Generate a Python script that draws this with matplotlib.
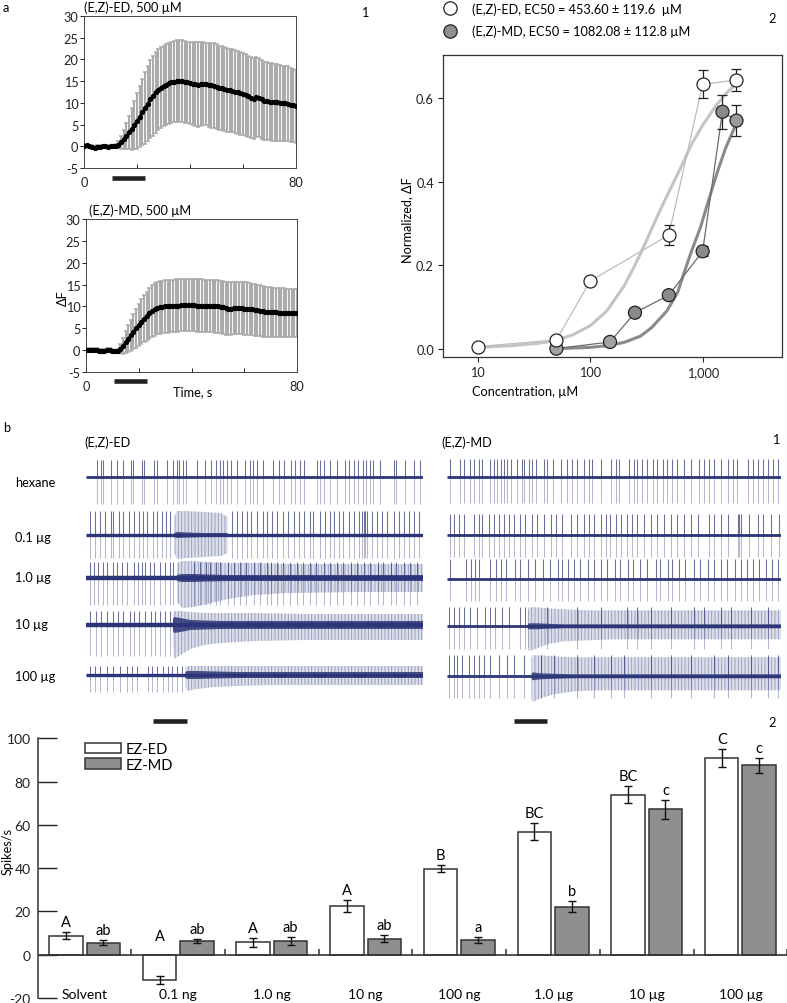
import numpy as np
import matplotlib
matplotlib.use('Agg')
import matplotlib.pyplot as plt
from matplotlib.patches import Patch
from matplotlib.lines import Line2D

# ======================= DATA =======================
# --- panel a1: calcium imaging time courses (mean +/- error), 1 s sampling
time_s = list(range(0, 81))
ED_mean = [0.1, 0.2, 0.0, -0.2, -0.3, -0.2, -0.1, 0.0, 0.0, -0.1, 0.0, 0.0, 0.1,
           0.4, 0.9, 1.6, 2.4, 3.2, 4.0, 4.9, 5.8, 6.8, 7.8,
           8.8, 9.8, 10.8, 11.6, 12.4, 13.0, 13.5, 13.9, 14.2, 14.5,
           14.7, 14.9, 15.0, 15.1, 15.0, 14.8, 14.7, 14.6, 14.4, 14.3,
           14.2, 14.3, 14.4, 14.3, 14.1, 14.0, 13.9, 13.7, 13.5, 13.4,
           13.2, 13.0, 12.9, 12.8, 12.6, 12.4, 12.2, 12.0, 11.8, 11.5,
           11.2, 11.0, 11.3, 11.2, 10.8, 10.5, 10.4, 10.3, 10.2, 10.1,
           10.1, 10.0, 9.9, 9.9, 9.8, 9.6, 9.4, 9.2]
ED_err = ([0.4] * 13 +
          [0.8, 1.5, 2.2, 3.0, 3.8, 4.8, 5.6, 6.4, 7.0, 7.6,
           8.2, 8.6, 9.0, 9.2, 9.3, 9.3, 9.3, 9.3, 9.3, 9.3,
           9.4, 9.4, 9.4, 9.4, 9.4, 9.4, 9.4, 9.5, 9.6, 9.7,
           9.7, 9.6, 9.5, 9.5, 9.6,
           9.8, 9.8, 9.8, 9.7, 9.7, 9.6, 9.6, 9.6, 9.5, 9.5,
           9.5, 9.5, 9.4, 9.4, 9.4, 9.3, 9.3, 9.2, 9.1, 9.1,
           9.0, 9.0, 8.9, 8.9, 8.8, 8.8, 8.7, 8.7, 8.6, 8.6,
           8.5, 8.5, 8.4])
MD_mean = [0.1, 0.1, 0.0, 0.1, 0.0, -0.1, -0.2, -0.1, 0.0, 0.0, -0.1,
           -0.3, -0.2, 0.3, 1.0, 1.8, 2.6, 3.4, 4.2, 5.0, 5.8,
           6.5, 7.2, 7.8, 8.4, 8.9, 9.3, 9.6, 9.8, 9.9, 10.0,
           10.0, 10.1, 10.1, 10.2, 10.2, 10.3, 10.3, 10.3, 10.3, 10.3,
           10.3, 10.2, 10.2, 10.2, 10.1, 10.1, 10.1, 10.1, 10.0, 10.0,
           9.9, 9.8, 9.6, 9.5, 9.5, 9.6, 9.6, 9.6, 9.6, 9.5,
           9.5, 9.4, 9.3, 9.2, 9.1, 9.0, 8.9, 8.8, 8.7, 8.7,
           8.7, 8.7, 8.6, 8.6, 8.6, 8.6, 8.6, 8.5, 8.5, 8.5]
MD_err = ([0.4] * 13 +
          [1.0, 1.8, 2.5, 3.1, 3.6, 4.0, 4.4, 4.8, 5.1, 5.4, 5.6, 5.8, 5.9, 6.0] +
          [6.0] * 24 +
          [6.0, 6.0, 6.1, 6.1, 6.1, 6.0, 6.0, 6.0, 6.0, 6.0,
           6.0, 5.9, 5.9, 5.9, 5.8, 5.8, 5.8, 5.7, 5.7, 5.7,
           5.6, 5.6, 5.6, 5.6, 5.6, 5.5, 5.5, 5.5, 5.5, 5.5])
stim_calcium = [10.5, 23.0]

# --- panel a2: dose-response
conc_ED = [10, 50, 100, 500, 1000, 2000]
resp_ED = [0.005, 0.021, 0.162, 0.272, 0.633, 0.643]
err_ED = [0.0, 0.0, 0.0, 0.024, 0.033, 0.027]
conc_MD = [50, 150, 250, 500, 1000, 1500, 2000]
resp_MD = [0.0, 0.016, 0.086, 0.128, 0.233, 0.567, 0.546]
err_MD = [0.0, 0.0, 0.0, 0.0, 0.012, 0.040, 0.038]
fit_ED_x = [10, 20, 35, 50, 70, 100, 140, 200, 250, 300, 400, 500, 630, 800, 1000, 1300, 1600, 2000]
fit_ED_y = [0.003, 0.007, 0.013, 0.020, 0.033, 0.055, 0.090, 0.150, 0.200, 0.245, 0.320, 0.375,
            0.430, 0.490, 0.535, 0.580, 0.610, 0.635]
fit_MD_x = [50, 100, 150, 200, 280, 350, 480, 600, 680, 800, 955, 1100, 1340, 1600, 2000]
fit_MD_y = [0.0, 0.003, 0.008, 0.015, 0.030, 0.050, 0.090, 0.135, 0.180, 0.235, 0.290, 0.345,
            0.420, 0.480, 0.540]
legend_ED = "(E,Z)-ED, EC50 = 453.60 \u00b1 119.6  \u00b5M"
legend_MD = "(E,Z)-MD, EC50 = 1082.08 \u00b1 112.8 \u00b5M"

# --- panel b1: single sensillum recordings (10 s traces), spike times in s
trace_rows = ['hexane', '0.1 \u00b5g', '1.0 \u00b5g', '10 \u00b5g', '100 \u00b5g']
stim_trace = [2.0, 3.0]
ED_spikes = [
    [0.34, 0.44, 0.51, 0.73, 0.93, 1.09, 1.33, 1.39, 1.65, 1.72, 2.02, 2.12, 2.40, 2.57, 2.69,
     2.77, 2.87, 2.97, 3.29, 3.54, 3.71, 3.86, 3.98, 4.08, 4.18, 4.30, 4.48, 4.72, 4.87, 4.97,
     5.07, 5.25, 5.54, 5.74, 5.88, 6.08, 6.21, 6.34, 6.46, 6.85, 6.93, 7.05, 7.25, 7.45, 7.69,
     7.80, 7.96, 8.06, 8.22, 8.32, 8.44, 8.53, 8.71, 9.13, 9.21, 9.48, 9.72, 9.92],
    [0.12, 0.27, 0.42, 0.56, 0.73, 0.81, 0.99, 1.11, 1.29, 1.41, 1.58, 1.68, 1.80, 1.98, 2.12,
     2.25, 2.38, 2.50, 4.33, 4.48, 4.63, 4.77, 4.89, 5.07, 5.25, 5.37, 5.52, 5.66, 5.86, 5.98,
     6.16, 6.31, 6.48, 6.65, 6.75, 6.93, 7.10, 7.23, 7.37, 7.52, 7.64, 7.79, 7.94, 8.09, 8.19,
     8.24, 8.29, 8.34, 8.49, 8.63, 8.78, 8.93, 9.13, 9.28, 9.43, 9.58, 9.72, 9.87],
    [0.12, 0.24, 0.37, 0.51, 0.61, 0.81, 0.93, 1.06, 1.21, 1.41, 1.55, 1.65, 1.75, 1.90, 2.02,
     2.20, 2.35, 2.48, 2.59, 3.19, 3.37, 3.55, 3.68, 3.85, 3.98, 4.21, 4.40, 4.57, 4.75, 4.99,
     5.15, 5.38, 5.50, 5.68, 5.86, 6.04, 6.27, 6.45, 6.66, 6.83, 7.07, 7.24, 7.46, 7.62, 7.85,
     8.03, 8.26, 8.42, 8.65, 8.82, 9.05, 9.21, 9.44, 9.60, 9.83],
    [0.12, 0.30, 0.44, 0.61, 0.79, 0.96, 1.11, 1.31, 1.43, 1.58, 1.75, 1.92, 2.05, 2.20, 2.35, 2.50],
    [0.12, 0.27, 0.42, 0.61, 0.79, 1.01, 1.21, 1.36, 1.51, 1.85, 1.95, 2.10, 2.28, 2.42, 2.54,
     2.69, 2.84],
]
ED_amp_up = [17, 24, 16, 14, 9]
ED_amp_dn = [27, 23, 27, 31, 17]
ED_env_t = [[], [2.62, 2.70, 3.00, 3.50, 4.00, 4.20],
            [2.70, 2.85, 3.20, 3.60, 4.20, 5.00, 6.00, 8.00, 10.0],
            [2.58, 2.62, 2.80, 3.10, 3.50, 4.00, 5.00, 6.50, 8.00, 10.0],
            [2.95, 3.00, 3.30, 3.80, 4.50, 5.50, 7.00, 10.0]]
ED_env_up = [[], [18, 24, 24, 23, 22, 18],
             [15, 17, 17, 16, 15, 15, 14, 14, 14],
             [12, 14, 14, 13, 12, 12, 12, 11, 11, 11],
             [8, 9, 9, 9, 9, 9, 9, 9]]
ED_env_dn = [[], [18, 24, 23, 22, 21, 18],
             [24, 30, 29, 26, 21, 17, 15, 14, 14],
             [20, 34, 30, 24, 20, 18, 16, 15, 15, 15],
             [12, 16, 14, 12, 11, 10, 10, 10]]
ED_env_core = [[], [2, 3, 2.5, 2, 2, 2],
               [3, 4, 4, 3.5, 3, 3, 3, 3, 3],
               [6, 8, 7, 5, 4.5, 4, 4, 4, 4, 4],
               [3, 4, 4, 3.5, 3, 3, 3, 3]]

MD_spikes = [
    [0.10, 0.40, 0.50, 0.70, 0.80, 0.95, 1.05, 1.30, 1.40, 1.50, 1.62, 1.70, 1.80, 1.92, 2.10,
     2.25, 2.32, 2.45, 2.55, 2.65, 2.90, 3.00, 3.18, 3.40, 3.60, 3.75, 3.90, 4.10, 4.25, 4.35,
     4.60, 4.90, 5.05, 5.15, 5.45, 5.60, 5.70, 5.85, 6.00, 6.18, 6.30, 6.48, 6.60, 6.75, 6.90,
     7.10, 7.30, 7.55, 7.68, 7.85, 8.00, 8.20, 8.40, 8.55, 8.68, 9.00, 9.15, 9.30, 9.45, 9.60,
     9.75, 9.90],
    [0.10, 0.20, 0.35, 0.50, 0.80, 0.95, 1.05, 1.25, 1.40, 1.55, 1.70, 1.85, 2.02, 2.20, 2.35,
     2.55, 2.70, 2.90, 3.10, 3.25, 3.45, 3.70, 3.90, 4.10, 4.25, 4.40, 4.60, 4.75, 4.88, 5.05,
     5.20, 5.40, 5.55, 5.70, 5.90, 6.10, 6.30, 6.50, 6.70, 6.90, 7.10, 7.30, 7.50, 7.85, 8.00,
     8.20, 8.40, 8.70, 8.75, 8.80, 9.05, 9.30, 9.45, 9.70, 9.95],
    [0.10, 0.58, 0.71, 0.84, 0.96, 1.28, 1.46, 1.61, 1.78, 2.03, 2.19, 2.42, 2.63, 2.87, 3.08,
     3.31, 3.44, 3.63, 3.81, 3.98, 4.22, 4.39, 4.62, 4.78, 5.02, 5.18, 5.41, 5.58, 5.77, 5.99,
     6.26, 6.38, 6.61, 6.74, 6.96, 7.13, 7.41, 7.58, 7.82, 7.99, 8.21, 8.38, 8.61, 8.79, 8.98,
     9.16, 9.34, 9.56, 9.74, 9.90],
    [0.05, 0.20, 0.35, 0.50, 0.70, 0.90, 1.15, 1.30, 1.45, 1.65, 1.85, 2.20, 2.35,
     3.0, 3.9, 4.6, 5.4, 5.7, 6.1, 6.7, 7.4, 7.7, 8.2, 8.5, 9.1, 9.6],
    [0.05, 0.20, 0.30, 0.45, 0.65, 0.80, 0.95, 1.10, 1.30, 1.55, 1.80, 2.00, 2.30,
     2.8, 3.2, 3.9, 4.4, 4.9, 5.3, 6.1, 6.7, 7.3, 8.0, 8.4, 9.1, 9.6, 9.9],
]
MD_amp_up = [18, 21, 20, 19, 21]
MD_amp_dn = [26, 22, 22, 23, 22]
MD_env_t = [[], [], [],
            [2.42, 2.45, 2.70, 3.00, 3.50, 4.20, 5.00, 6.00, 8.00, 10.0],
            [2.53, 2.56, 2.80, 3.20, 3.80, 4.50, 5.50, 7.00, 10.0]]
MD_env_up = [[], [], [],
             [15, 19, 19, 18, 17, 16, 16, 16, 16, 16],
             [18, 21, 21, 20, 19, 19, 19, 19, 19]]
MD_env_dn = [[], [], [],
             [18, 25, 22, 18, 15, 14, 13, 13, 13, 13],
             [22, 26, 22, 18, 15, 14, 14, 14, 14]]
MD_env_core = [[], [], [],
               [2, 3, 3, 2.5, 2, 2, 2, 2, 2, 2],
               [2, 4, 3, 2.5, 2, 2, 2, 2, 2]]

# --- panel b2: spike frequency bars
categories = ['Solvent', '0.1 ng', '1.0 ng', '10 ng', '100 ng', '1.0 \u00b5g', '10 \u00b5g', '100 \u00b5g']
ed_rate = [8.8, -11.6, 5.7, 22.6, 39.8, 56.9, 74.0, 90.9]
ed_rate_err = [1.7, 1.8, 2.2, 2.7, 1.8, 4.1, 3.9, 4.2]
md_rate = [5.5, 6.2, 6.3, 7.4, 6.8, 22.2, 67.2, 87.5]
md_rate_err = [1.2, 1.0, 1.8, 1.6, 1.3, 2.4, 4.5, 3.5]
ed_letters = ['A', 'A', 'A', 'A', 'B', 'BC', 'BC', 'C']
md_letters = ['ab', 'ab', 'ab', 'ab', 'a', 'b', 'c', 'c']

# ======================= FIGURE =======================
plt.rcParams['font.family'] = ['Lato', 'DejaVu Sans']
plt.rcParams['axes.unicode_minus'] = False
plt.rcParams['hatch.linewidth'] = 0.6
W, H = 787, 1004
fig = plt.figure(figsize=(W / 100, H / 100), dpi=100)


def rect(x0, y0, x1, y1):
    return [x0 / W, 1 - y1 / H, (x1 - x0) / W, (y1 - y0) / H]


def ftext(x, y, s, **kw):
    kw.setdefault('va', 'center')
    fig.text(x / W, 1 - y / H, s, **kw)


FS = 9.2
SP = '#444444'

# ---------- a1: time courses ----------
def time_panel(r, mean, err, title_xy, title, stim_y):
    ax = fig.add_axes(rect(*r))
    ax.errorbar(time_s, mean, yerr=err, fmt='none', ecolor='#ababab',
                elinewidth=1.5, capsize=1.4, capthick=1.1, zorder=1)
    ax.plot(time_s, mean, '-o', color='black', lw=1.6, ms=2.8, zorder=3)
    ax.set_xlim(0, 80)
    ax.set_ylim(-5, 30)
    ax.set_yticks([-5, 0, 5, 10, 15, 20, 25, 30])
    ax.set_xticks([0, 20, 40, 60, 80])
    ax.set_xticklabels(['0', '', '', '', '80'])
    ax.tick_params(axis='y', direction='out', length=3, width=0.7, pad=1, labelsize=FS, colors='#222')
    ax.tick_params(axis='x', direction='in', length=3, width=0.7, pad=6, labelsize=FS, colors='#222')
    for s in ax.spines.values():
        s.set_color(SP)
        s.set_linewidth(0.7)
    ax.plot(stim_calcium, [stim_y, stim_y], color='#222', lw=3.3, solid_capstyle='butt',
            transform=ax.get_xaxis_transform(), clip_on=False)
    ftext(*title_xy, title, fontsize=FS, ha='left')
    return ax


time_panel((84, 17, 296, 169), ED_mean, ED_err, (84, 8), '(E,Z)-ED, 500 \u00b5M', -0.066)
time_panel((86, 220, 297, 373), MD_mean, MD_err, (89, 211), '(E,Z)-MD, 500 \u00b5M', -0.059)
ftext(193, 392, 'Time, s', fontsize=FS, ha='center')
ftext(63, 298, '\u0394F', fontsize=FS, ha='center', rotation=90)
ftext(3, 8, 'a', fontsize=FS, ha='left')
ftext(365, 13, '1', fontsize=FS, ha='center')

# ---------- a2: dose response ----------
ax2 = fig.add_axes(rect(443, 56, 782, 358))
ax2.set_xscale('log')
ax2.plot(fit_ED_x, fit_ED_y, color='#c4c4c4', lw=2.2, zorder=1)
ax2.plot(fit_MD_x, fit_MD_y, color='#8a8a8a', lw=2.2, zorder=1)
ax2.plot(conc_ED, resp_ED, color='#bdbdbd', lw=0.9, zorder=2)
ax2.plot(conc_MD, resp_MD, color='#6a6a6a', lw=0.9, zorder=2)
ax2.errorbar(conc_ED, resp_ED, yerr=err_ED, fmt='none', ecolor='#222', elinewidth=0.9,
             capsize=3.5, capthick=0.9, zorder=3)
ax2.errorbar(conc_MD, resp_MD, yerr=err_MD, fmt='none', ecolor='#222', elinewidth=0.9,
             capsize=3.5, capthick=0.9, zorder=3)
md_face = ['#a3a3a3', '#a3a3a3', '#8a8a8a', '#8a8a8a', '#8a8a8a', '#8a8a8a', '#9a9a9a']
ax2.scatter(conc_MD, resp_MD, s=88, c=md_face, edgecolors='#222', linewidths=0.9, zorder=4)
ax2.scatter(conc_ED, resp_ED, s=88, c='white', edgecolors='#222', linewidths=0.9, zorder=5)
ax2.set_xlim(4.9, 5080)
ax2.set_ylim(-0.02, 0.703)
ax2.set_xticks([10, 100, 1000])
ax2.set_xticklabels(['10', '100', '1,000'])
ax2.xaxis.set_minor_locator(matplotlib.ticker.NullLocator())
ax2.set_yticks([0.0, 0.2, 0.4, 0.6])
ax2.set_yticklabels(['0.0', '0.2', '0.4', '0.6'])
ax2.tick_params(direction='out', length=3.5, width=0.8, labelsize=FS, colors='#222', pad=3)
for s in ax2.spines.values():
    s.set_color('#333')
    s.set_linewidth(0.9)
ftext(472, 392, 'Concentration, \u00b5M', fontsize=FS, ha='left')
ftext(407, 220, 'Normalized, \u0394F', fontsize=FS, ha='center', rotation=90)
fig.add_artist(Line2D([450 / W], [1 - 9.3 / H], marker='o', ms=9.6, mfc='white', mec='#222',
                      mew=0.9, transform=fig.transFigure))
fig.add_artist(Line2D([450 / W], [1 - 31.7 / H], marker='o', ms=9.6, mfc='#8f8f8f', mec='#222',
                      mew=0.9, transform=fig.transFigure))
ftext(472, 9.3, legend_ED, fontsize=FS, ha='left')
ftext(472, 31.7, legend_MD, fontsize=FS, ha='left')
ftext(772, 19, '2', fontsize=FS, ha='center')

# ---------- b1: traces ----------
NAVY = '#2c3577'
ED_base = [477.7, 536, 579, 626, 676]
MD_base = [477.7, 536, 580, 627.3, 677.3]
ED_lw = [2.0, 2.4, 3.2, 3.2, 2.4]
MD_lw = [2.0, 2.0, 2.0, 2.0, 2.0]


def trace_panel(r, base, spikes, up, dn, et, eu, ed, ec, lws):
    ax = fig.add_axes(rect(*r))
    ax.set_xlim(0, 10)
    ax.set_ylim(735, 440)
    ax.axis('off')
    for i in range(len(base)):
        b = base[i]
        if len(et[i]):
            t = list(et[i])
            top = [b - v for v in eu[i]]
            bot = [b + v for v in ed[i]]
            with plt.rc_context({'hatch.color': NAVY}):
                ax.fill(t + t[::-1], top + bot[::-1], facecolor=(0.17, 0.21, 0.47, 0.16),
                        edgecolor=(0.17, 0.21, 0.47, 0.42), hatch='|||||', lw=0, zorder=1)
            ct = [b - v for v in ec[i]]
            cb = [b + v for v in ec[i]]
            ax.fill(t + t[::-1], ct + cb[::-1], color=NAVY, alpha=0.85, lw=0, zorder=4)
        sp = spikes[i]
        ax.vlines(sp, b - up[i], b, color=NAVY, lw=0.75, alpha=0.7, zorder=2)
        ax.vlines(sp, b, b + dn[i], color=NAVY, lw=0.75, alpha=0.35, zorder=2)
        ax.plot([0, 10], [b, b], color=NAVY, lw=lws[i], zorder=3, solid_capstyle='butt')
    ax.plot(stim_trace, [722, 722], color='#222', lw=3.3, solid_capstyle='butt')
    return ax


trace_panel((86, 440, 423, 735), ED_base, ED_spikes, ED_amp_up, ED_amp_dn,
            ED_env_t, ED_env_up, ED_env_dn, ED_env_core, ED_lw)
trace_panel((447, 440, 781, 735), MD_base, MD_spikes, MD_amp_up, MD_amp_dn,
            MD_env_t, MD_env_up, MD_env_dn, MD_env_core, MD_lw)
ftext(3, 428, 'b', fontsize=FS, ha='left')
ftext(84, 443, '(E,Z)-ED', fontsize=FS, ha='left')
ftext(441, 443, '(E,Z)-MD', fontsize=FS, ha='left')
ftext(776, 440, '1', fontsize=FS, ha='center')
row_label_y = [483, 538, 578, 625, 677]
for lab, yy in zip(trace_rows, row_label_y):
    ftext(15, yy, lab, fontsize=FS, ha='left')

# ---------- b2: bars ----------
ax3 = fig.add_axes(rect(37.7, 739.3, 787.3, 999))
x = np.arange(len(categories))
bw, off = 0.357, 0.2
ax3.bar(x - off, ed_rate, bw, color='white', edgecolor='#333', lw=1.1, zorder=2)
ax3.bar(x + off, md_rate, bw, color='#8f8f8f', edgecolor='#333', lw=1.1, zorder=2)
ax3.errorbar(x - off, ed_rate, yerr=ed_rate_err, fmt='none', ecolor='#111', elinewidth=1,
             capsize=2.6, capthick=1, zorder=3)
ax3.errorbar(x + off, md_rate, yerr=md_rate_err, fmt='none', ecolor='#111', elinewidth=1,
             capsize=2.6, capthick=1, zorder=3)
for i in range(len(categories)):
    ax3.text(x[i] - off, max(ed_rate[i] + ed_rate_err[i], 4.0) + 1.4, ed_letters[i],
             ha='center', va='bottom', fontsize=10.5)
    ax3.text(x[i] + off, max(md_rate[i] + md_rate_err[i], 4.0) + 1.4, md_letters[i],
             ha='center', va='bottom', fontsize=10.5)
    ax3.text(x[i], -18.2, categories[i], ha='center', va='center', fontsize=10)
ax3.axhline(0, color='#333', lw=1.2, zorder=4)
ax3.vlines(x + 0.5, 0, 2.8, color='#333', lw=1.1, zorder=4, clip_on=False)
ax3.set_xlim(-0.5, 7.5)
ax3.set_ylim(-20, 100)
ax3.set_xticks([])
ax3.set_yticks([-20, 0, 20, 40, 60, 80, 100])
ax3.tick_params(axis='y', direction='in', length=13.7, width=1.0, pad=5, labelsize=10, colors='#222')
for k in ['top', 'right', 'bottom']:
    ax3.spines[k].set_visible(False)
ax3.spines['left'].set_color('#333')
ax3.spines['left'].set_linewidth(1.1)
ax3.legend(handles=[Patch(facecolor='white', edgecolor='#333', lw=1.1, label='EZ-ED'),
                    Patch(facecolor='#8f8f8f', edgecolor='#333', lw=1.1, label='EZ-MD')],
           loc='upper left', bbox_to_anchor=(0.063, 0.985), frameon=False, fontsize=10.5,
           handlelength=2.5, handleheight=0.75, labelspacing=0.1, handletextpad=0.3,
           borderpad=0, borderaxespad=0)
ftext(8, 852, 'Spikes/s', fontsize=FS, ha='center', rotation=90)
ftext(772, 723, '2', fontsize=FS, ha='center')

fig.savefig('out.png', dpi=100)
